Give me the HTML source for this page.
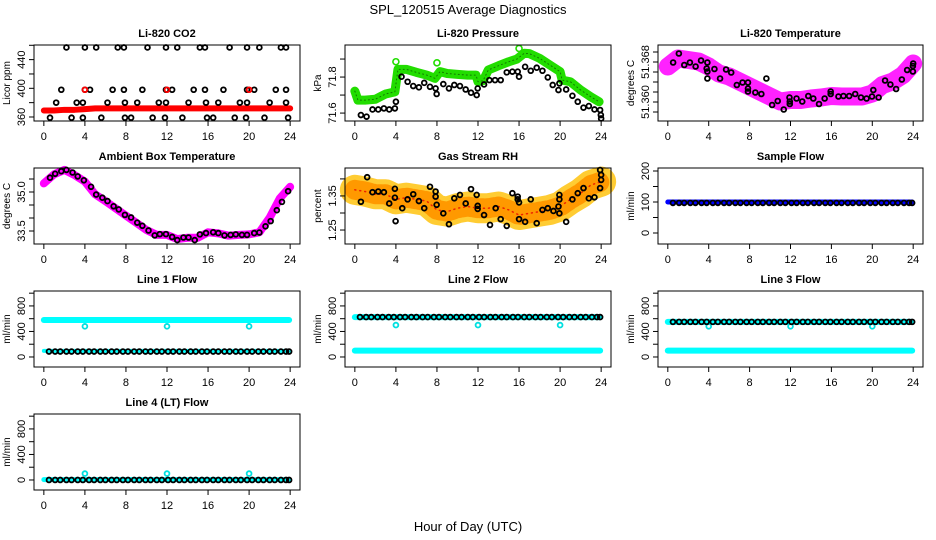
<!DOCTYPE html>
<html><head><meta charset="utf-8"><style>
body{margin:0;background:#fff}
svg{display:block;font-family:"Liberation Sans",Arial,sans-serif}
</style></head><body>
<svg id="c" width="936" height="540">
<text x="468" y="14" text-anchor="middle" font-size="13">SPL_120515  Average Diagnostics</text>
<text x="468" y="531" text-anchor="middle" font-size="13">Hour of Day (UTC)</text>
</svg>
<script>
// ---- data ----
const co2BandHours=[0,1,2,3,4,5,6,8,10,12,14,16,18,20,22,24];
const co2BandVals=[369,369,370,370,371,372,372,372,372,372,372,372,372,372,372,372];
const co2Hours=[2.2,4.0,5.1,7.2,7.8,10.1,11.9,13.0,15.2,15.7,18.1,19.8,21.0,23.1,23.6,1.7,4.0,4.5,6.7,7.8,9.6,11.9,12.5,14.6,15.7,17.5,19.8,20.5,22.6,23.6,1.2,3.2,3.8,6.2,7.9,9.1,11.2,11.9,14.1,15.8,17.0,19.1,19.8,22.0,23.6,0.6,2.7,3.8,5.6,7.9,8.5,10.6,11.8,13.5,15.9,16.5,18.6,19.7,21.5,23.8];
const co2Vals=[457,457,457,457,457,457,457,457,457,457,457,457,457,457,457,398,398,398,398,398,398,398,398,398,398,398,398,398,398,398,380,380,380,380,380,380,380,380,380,380,380,380,380,380,380,359,359,359,359,359,359,359,359,359,359,359,359,359,359,359];
const co2RedHours=[4,12,20];
const co2RedVals=[398,398,398];

const presBandHours=[0,0.3,1,2,3,3.9,4.2,5,6,7,7.8,8.3,9,10,11,11.8,12,12.5,13,14,15,15.8,16.5,17,18,19,20,20.2,21,22,23,23.8];
const presBandVals=[71.722,71.672,71.672,71.677,71.706,71.718,71.843,71.843,71.826,71.811,71.793,71.83,71.82,71.815,71.811,71.811,71.774,71.78,71.839,71.863,71.885,71.9,71.932,71.93,71.904,71.867,71.83,71.783,71.774,71.728,71.69,71.663];
const presSpikeHours=[4,8,16];
const presSpikeVals=[71.885,71.879,71.959];
const presHours=[0.59,1.14,1.72,2.28,2.83,3.35,3.9,4.0,4.55,5.14,5.69,6.24,6.76,7.32,7.87,7.97,8.62,9.17,9.69,10.24,10.8,11.32,11.87,11.97,12.59,13.11,13.66,14.21,14.8,15.35,15.87,16.0,16.59,17.14,17.72,18.28,18.8,19.28,19.84,19.93,20.59,21.2,21.72,22.28,22.8,23.35,23.9,23.97,24.0];
const presVals=[71.589,71.58,71.62,71.62,71.626,71.62,71.626,71.663,71.802,71.774,71.75,71.743,71.768,71.746,71.737,71.706,71.761,71.737,71.756,71.75,71.731,71.713,71.7,71.737,71.759,71.783,71.783,71.783,71.826,71.83,71.83,71.802,71.857,71.835,71.852,71.835,71.798,71.756,71.728,71.765,71.731,71.696,71.663,71.63,71.639,71.62,71.617,71.589,71.57];

const tempBandHours=[0,1,2,3,4,5,6,7,8,9,10,11,12,13,14,15,16,17,18,19,20,21,22,23,24];
const tempBandVals=[51.3671,51.3687,51.3684,51.3681,51.3671,51.3657,51.3651,51.3641,51.3631,51.3621,51.3611,51.3601,51.3604,51.3604,51.3607,51.3609,51.3612,51.3611,51.3611,51.3611,51.3617,51.3634,51.3641,51.3654,51.3677];
const tempHours=[0.52,1.08,1.61,2.16,2.72,3.25,3.87,3.8,3.87,3.87,4.56,5.11,5.7,6.2,6.75,7.31,7.84,7.84,7.84,8.56,9.15,9.64,10.2,10.75,11.34,11.9,11.93,11.93,12.59,13.15,13.74,14.23,14.79,15.34,15.93,15.93,16.69,17.18,17.74,18.33,18.89,19.44,19.97,20.1,20.62,21.25,21.77,22.33,22.89,23.41,23.97,23.97,24.0];
const tempVals=[51.3679,51.3697,51.3674,51.3679,51.3671,51.3683,51.3679,51.3667,51.3661,51.3647,51.3666,51.3647,51.3665,51.3659,51.3634,51.3639,51.3639,51.3627,51.3621,51.3619,51.3616,51.3647,51.3594,51.3602,51.3585,51.3609,51.3601,51.3596,51.3607,51.3601,51.3612,51.3607,51.3596,51.3607,51.3616,51.3621,51.3611,51.3612,51.3612,51.3616,51.3609,51.3607,51.3611,51.3624,51.3609,51.3643,51.3635,51.3626,51.3645,51.3664,51.3672,51.3661,51.3677];

const ambBandHours=[0,1,2,3,4,5,6,7,8,9,10,11,12,13,14,15,16,17,18,19,20,21,22,23,24];
const ambBandVals=[35.33,35.68,35.85,35.65,35.40,34.91,34.65,34.37,34.09,33.82,33.54,33.35,33.35,33.19,33.24,33.24,33.45,33.41,33.32,33.35,33.37,33.45,34.01,34.76,35.20];
const ambHours=[0.6,1.1,1.7,2.2,2.8,3.3,3.9,4.6,5.1,5.7,6.2,6.8,7.3,7.9,8.5,9.1,9.6,10.2,10.8,11.3,11.9,12.5,13.0,13.6,14.1,14.7,15.2,15.8,16.5,17.0,17.6,18.2,18.7,19.3,19.8,20.5,21.0,21.6,22.1,22.7,23.2,23.8];
const ambVals=[35.55,35.70,35.80,35.85,35.75,35.60,35.45,35.20,34.90,34.78,34.65,34.45,34.33,34.12,34.02,33.82,33.70,33.52,33.33,33.38,33.38,33.27,33.15,33.25,33.25,33.15,33.37,33.42,33.45,33.42,33.33,33.35,33.37,33.35,33.35,33.42,33.44,33.68,33.88,34.30,34.62,35.03];

const rhBandHours=[0,1,2,3,4,5,6,7,8,9,10,11,12,13,14,15,16,17,18,19,20,21,22,23,24];
const rhBandVals=[1.368,1.363,1.355,1.355,1.340,1.345,1.340,1.335,1.309,1.304,1.314,1.319,1.314,1.314,1.319,1.309,1.294,1.299,1.304,1.309,1.319,1.340,1.358,1.382,1.392];
const rhHours=[0.59,1.2,1.72,2.28,2.83,3.35,3.9,3.97,3.9,4.62,5.14,5.69,6.24,6.76,7.32,7.87,7.87,7.97,8.62,9.17,9.69,10.24,10.8,11.32,11.87,11.97,11.97,12.59,13.17,13.72,14.21,14.8,15.35,15.87,15.87,16.0,16.0,16.59,17.14,17.72,18.28,18.8,19.35,19.84,19.93,19.93,19.93,20.59,21.2,21.72,22.28,22.8,23.35,23.9,24.0,24.0,23.9];
const rhVals=[1.333,1.405,1.361,1.363,1.361,1.328,1.371,1.276,1.345,1.314,1.340,1.355,1.335,1.314,1.377,1.363,1.348,1.324,1.299,1.267,1.343,1.353,1.328,1.370,1.353,1.321,1.312,1.294,1.265,1.314,1.282,1.262,1.358,1.348,1.340,1.331,1.282,1.274,1.340,1.270,1.309,1.314,1.306,1.319,1.340,1.353,1.299,1.274,1.340,1.358,1.373,1.343,1.346,1.373,1.397,1.412,1.426];

const avgHours=[0.5,1.1,1.6,2.2,2.7,3.3,3.8,4.4,4.9,5.5,6.0,6.6,7.1,7.7,8.2,8.8,9.3,9.9,10.4,11.0,11.5,12.1,12.6,13.2,13.7,14.3,14.8,15.4,15.9,16.5,17.0,17.6,18.1,18.7,19.2,19.8,20.3,20.9,21.4,22.0,22.5,23.1,23.6,23.9];
const sampleAvg=[97,97,97,97,97,97,97,97,97,97,97,97,97,97,97,97,97,97,97,97,97,97,97,97,97,97,97,97,97,97,97,97,97,97,97,97,97,97,97,97,97,97,97,97];
const line1Avg=[85,85,85,85,85,85,85,85,85,85,85,85,85,85,85,85,85,85,85,85,85,85,85,85,85,85,85,85,85,85,85,85,85,85,85,85,85,85,85,85,85,85,85,85];
const line2Avg=[625,625,625,625,625,625,625,625,625,625,625,625,625,625,625,625,625,625,625,625,625,625,625,625,625,625,625,625,625,625,625,625,625,625,625,625,625,625,625,625,625,625,625,625];
const line3Avg=[550,550,550,550,550,550,550,550,550,550,550,550,550,550,550,550,550,550,550,550,550,550,550,550,550,550,550,550,550,550,550,550,550,550,550,550,550,550,550,550,550,550,550,550];
const line4Avg=[0,0,0,0,0,0,0,0,0,0,0,0,0,0,0,0,0,0,0,0,0,0,0,0,0,0,0,0,0,0,0,0,0,0,0,0,0,0,0,0,0,0,0,0];
const flowBandHours=[0,23.9];
const sampleBand=[100,100];
const line1HiBand=[580,580], line1LoBand=[95,95];
const line2HiBand=[625,625], line2LoBand=[100,100];
const line3HiBand=[550,550], line3LoBand=[100,100];
const line4Band=[5,5];
const dipHours=[4,12,20];
const line1Dip=[480,480,480], line2Dip=[500,500,500], line3Dip=[480,480,480], line4Dip=[100,100,100];

// ---- drawing ----
const NS='http://www.w3.org/2000/svg';
const svg=document.getElementById('c');
function mk(tag,attrs,parent){const e=document.createElementNS(NS,tag);for(const k in attrs)e.setAttribute(k,attrs[k]);(parent||svg).appendChild(e);return e;}
const cols=[[34,300],[345,611],[658,923]];
const rows=[[45,121],[168,244],[291,367],[414,490]];
function panel(name,title,ylab,col,row,ydom,yticks,ylabels){
  const [x0,x1]=cols[col],[y0,y1]=rows[row];
  const g=mk('g',{});
  
  
  const X=h=>x0+(h+0.96)/25.92*(x1-x0);
  const Y=v=>y1-(v-ydom[0])/(ydom[1]-ydom[0])*(y1-y0);
  const t=mk('text',{x:(x0+x1)/2,y:y0-8,'text-anchor':'middle','font-size':11,'font-weight':'bold'},g);t.textContent=title;
  
  
  const dg=mk('g',{},g);
  const box=mk('rect',{x:x0,y:y0,width:x1-x0,height:y1-y0,fill:'none',stroke:'#000','stroke-width':1},g);
  
  
  const xa=mk('g',{},g);
  
  
  mk('line',{x1:X(0),x2:X(24),y1:y1,y2:y1,stroke:'#000'},xa);
  for(let h=0;h<=24;h+=4){mk('line',{x1:X(h),x2:X(h),y1:y1,y2:y1+5,stroke:'#000'},xa);
    const l=mk('text',{x:X(h),y:y1+19,'text-anchor':'middle','font-size':11},xa);l.textContent=h;}
  const ya=mk('g',{},g);
  
  
  yticks.forEach((v,i)=>{mk('line',{x1:x0-5,x2:x0,y1:Y(v),y2:Y(v),stroke:'#000'},ya);
    if(ylabels[i]){const l=mk('text',{x:x0-9,y:Y(v),'text-anchor':'middle','font-size':11,transform:`rotate(-90 ${x0-9} ${Y(v)})`},ya);l.textContent=ylabels[i];}});
  const yl=mk('text',{x:x0-24,y:(y0+y1)/2,'text-anchor':'middle','font-size':10,transform:`rotate(-90 ${x0-24} ${(y0+y1)/2})`},g);yl.textContent=ylab;
  
  
  return {
    band(hs,vs,color,w,nm){const p=mk('polyline',{points:hs.map((h,i)=>X(h)+','+Y(vs[i])).join(' '),fill:'none',stroke:color,'stroke-width':w,'stroke-linejoin':'round','stroke-linecap':'round'},dg);
      
      return p;},
    pts(hs,vs,color,nm,r,sw){const pg=mk('g',{},dg);
      
      
      hs.forEach((h,i)=>mk('circle',{cx:X(h),cy:Y(vs[i]),r:r||2.4,fill:'none',stroke:color,'stroke-width':sw||1.8},pg));return pg;}
  };
}
// CO2
let p=panel('co2','Li-820 CO2','Licor ppm',0,0,[354.4,460.4],[360,380,400,420,440,460],['360','','400','','440','']);
p.band(co2BandHours,co2BandVals,'#f00',6,'co2-raw-band');
p.pts(co2Hours,co2Vals,'#000','co2-averages');
p.pts(co2RedHours,co2RedVals,'#f00','co2-red-points');
// Pressure
p=panel('pressure','Li-820 Pressure','kPa',1,0,[71.556,71.978],[71.6,71.7,71.8,71.9],['71.6','','71.8','']);
p.band(presBandHours,presBandVals,'#22dd00',9,'pressure-raw-band');
p.band(presBandHours,presBandVals,'#117700',1,'pressure-raw-core').setAttribute('stroke-dasharray','1 3');
p.pts(presSpikeHours,presSpikeVals,'#22dd00','pressure-spikes',3,1.6);
p.pts(presHours,presVals,'#000','pressure-averages');
// Temperature
p=panel('temperature','Li-820 Temperature','degrees C',2,0,[51.3562,51.3714],[51.358,51.360,51.362,51.364,51.366,51.368,51.370],['','51.360','','','','51.368','']);
p.band(tempBandHours,tempBandVals,'#ff22ff',18,'temperature-raw-band');
p.pts(tempHours,tempVals,'#000','temperature-averages');
// Ambient
p=panel('ambient','Ambient Box Temperature','degrees C',0,1,[33.0,35.923],[33.5,34.0,34.5,35.0,35.5],['33.5','','','35.0','']);
p.band(ambBandHours,ambBandVals,'#ff00ff',8,'ambient-raw-band');
p.pts(ambHours,ambVals,'#000','ambient-averages');
// RH
p=panel('rh','Gas Stream RH','percent',1,1,[1.209,1.432],[1.25,1.30,1.35,1.40],['1.25','','1.35','']);
p.band(rhBandHours,rhBandVals,'#ffcc33',30,'rh-raw-band');
p.band(rhBandHours,rhBandVals,'#ff9900',20,'rh-raw-band-inner').setAttribute('stroke-dasharray','3 3');
p.band(rhBandHours,rhBandVals,'#ee2200',1.5,'rh-raw-band-dots').setAttribute('stroke-dasharray','1 4');
p.pts(rhHours,rhVals,'#000','rh-averages');
// Sample flow
p=panel('sample-flow','Sample Flow','ml/min',2,1,[-35.5,209.7],[0,50,100,150,200],['0','','100','','200']);
p.band(flowBandHours,sampleBand,'#0000ff',5,'sample-flow-raw-band');
p.pts(avgHours,sampleAvg,'#000','sample-flow-averages');
const ft=[0,200,400,600,800,1000], fl=['0','','400','','800',''], fd=[-157,1034];
// Line 1
p=panel('line1-flow','Line 1 Flow','ml/min',0,2,fd,ft,fl);
p.band(flowBandHours,line1HiBand,'#00ffff',6,'line1-high-band');
p.band(flowBandHours,line1LoBand,'#00ffff',4,'line1-low-band');
p.pts(dipHours,line1Dip,'#00e0e0','line1-dips');
p.pts(avgHours,line1Avg,'#000','line1-averages');
// Line 2
p=panel('line2-flow','Line 2 Flow','ml/min',1,2,fd,ft,fl);
p.band(flowBandHours,line2HiBand,'#00ffff',6,'line2-high-band');
p.band(flowBandHours,line2LoBand,'#00ffff',6,'line2-low-band');
p.pts(dipHours,line2Dip,'#00e0e0','line2-dips');
p.pts(avgHours,line2Avg,'#000','line2-averages');
// Line 3
p=panel('line3-flow','Line 3 Flow','ml/min',2,2,fd,ft,fl);
p.band(flowBandHours,line3HiBand,'#00ffff',6,'line3-high-band');
p.band(flowBandHours,line3LoBand,'#00ffff',6,'line3-low-band');
p.pts(dipHours,line3Dip,'#00e0e0','line3-dips');
p.pts(avgHours,line3Avg,'#000','line3-averages');
// Line 4
p=panel('line4-flow','Line 4 (LT) Flow','ml/min',0,3,fd,ft,fl);
p.band(flowBandHours,line4Band,'#00ffff',5,'line4-band');
p.pts(dipHours,line4Dip,'#00e0e0','line4-dips');
p.pts(avgHours,line4Avg,'#000','line4-averages');
</script>
</body></html>
